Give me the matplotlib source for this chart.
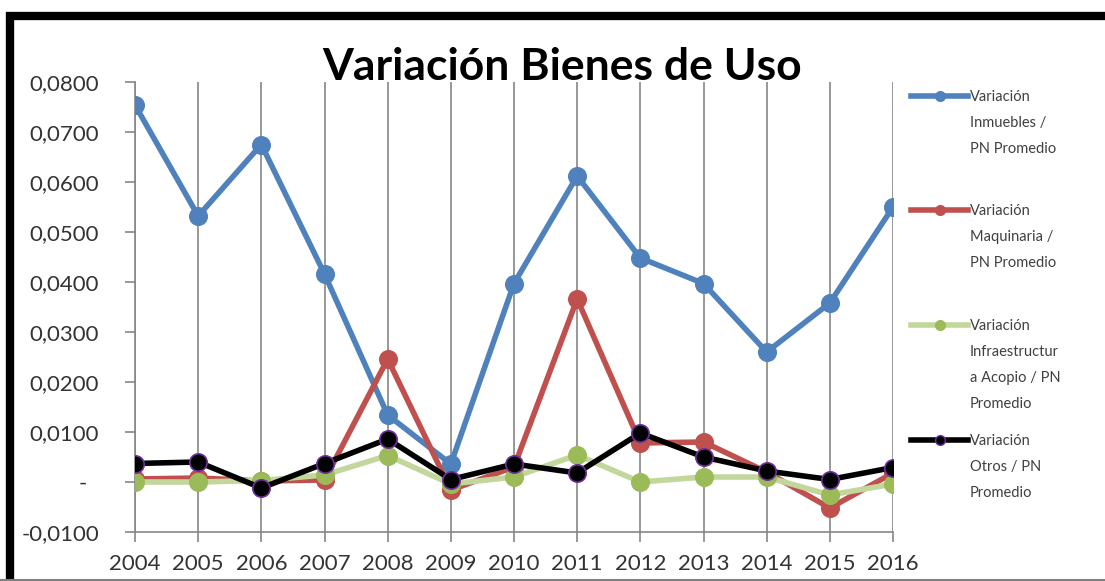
import matplotlib.pyplot as plt
from matplotlib.lines import Line2D
from matplotlib.patches import Rectangle

# Data
years = [2004, 2005, 2006, 2007, 2008, 2009, 2010, 2011, 2012, 2013, 2014, 2015, 2016]
inmuebles = [0.0754, 0.0532, 0.0675, 0.0416, 0.0134, 0.0036, 0.0397, 0.0612, 0.0448, 0.0397, 0.0260, 0.0358, 0.0550]
maquinaria = [0.0006, 0.0008, 0.0002, 0.0004, 0.0246, -0.0016, 0.0030, 0.0366, 0.0078, 0.0080, 0.0020, -0.0052, 0.0018]
infraestructura = [0.0000, 0.0000, 0.0003, 0.0014, 0.0053, -0.0004, 0.0010, 0.0054, 0.0000, 0.0010, 0.0010, -0.0026, -0.0004]
otros = [0.0037, 0.0040, -0.0012, 0.0037, 0.0086, 0.0005, 0.0036, 0.0018, 0.0098, 0.0050, 0.0022, 0.0005, 0.0029]

labels = ["Variación\nInmuebles /\nPN Promedio",
          "Variación\nMaquinaria /\nPN Promedio",
          "Variación\nInfraestructur\na Acopio / PN\nPromedio",
          "Variación\nOtros / PN\nPromedio"]

yticks = [-0.01, 0.0, 0.01, 0.02, 0.03, 0.04, 0.05, 0.06, 0.07, 0.08]

def fmt(v):
    if abs(v) < 1e-12:
        return "-  "
    return f"{v:.4f}".replace(".", ",")

# style per series: line colour, marker face, marker edge
styles = [
    ("#4f81bd", "#4f81bd", "#4f81bd"),
    ("#c0504d", "#c0504d", "#c0504d"),
    ("#c3d69b", "#9bbb59", "#9bbb59"),
    ("#000000", "#000000", "#7030a0"),
]
series = [inmuebles, maquinaria, infraestructura, otros]

plt.rcParams['font.family'] = ['Lato', 'DejaVu Sans']

fig = plt.figure(figsize=(11.05, 5.81), dpi=100)
W, H = 1105, 581
ax = fig.add_axes([135 / W, 1 - 532 / H, (893 - 135) / W, (532 - 82) / H])

for i, (vals, (lc, mf, me)) in enumerate(zip(series, styles)):
    ax.plot(years, vals, color=lc, lw=4, marker="o", ms=12.5,
            mfc=mf, mec=me, mew=1.2, zorder=3 + i, solid_joinstyle="round")

ax.set_xlim(2004, 2016)
ax.set_ylim(-0.01, 0.08)
ax.set_xticks(years)
ax.set_xticklabels([str(y) for y in years])
ax.set_yticks(yticks)
ax.set_yticklabels([fmt(v) for v in yticks])
ax.xaxis.grid(True, color="#868686", lw=1.2)
ax.yaxis.grid(False)
for s in ["top", "right"]:
    ax.spines[s].set_visible(False)
for s in ["left", "bottom"]:
    ax.spines[s].set_color("#868686")
    ax.spines[s].set_linewidth(1.2)
ax.tick_params(axis="both", colors="#868686", length=7, width=1.2,
               labelcolor="#333333", labelsize=16)
ax.tick_params(axis="x", pad=9)
ax.tick_params(axis="y", pad=19)

# title
fig.text(562 / W, 1 - 67 / H, "Variación Bienes de Uso", ha="center", va="center",
         fontsize=32, fontweight="bold", color="#000000")

# legend drawn by hand (Excel-style evenly spaced entries)
entry_y = [96, 210, 325, 440]
for (lc, mf, me), lab, yy in zip(styles, labels, entry_y):
    yf = 1 - yy / H
    fig.add_artist(Line2D([911 / W, 968 / W], [yf, yf], color=lc, lw=4,
                          transform=fig.transFigure))
    fig.add_artist(Line2D([939.5 / W], [yf], color=lc, marker="o", ms=7,
                          mfc=mf, mec=me, mew=1.0, transform=fig.transFigure))
    fig.text(970 / W, 1 - (yy - 6) / H, lab, ha="left", va="top",
             fontsize=10.5, color="#404040", linespacing=2.1)

# black frame of the chart area
fig.add_artist(Rectangle((10 / W, -0.05), 1.2, (1 - 16 / H) + 0.05, fill=False,
                         ec="black", lw=6, transform=fig.transFigure))
fig.add_artist(Line2D([0, 1], [1 - 580 / H, 1 - 580 / H], color="#808080", lw=1.5,
                      transform=fig.transFigure))

fig.savefig("out.png", dpi=100)
